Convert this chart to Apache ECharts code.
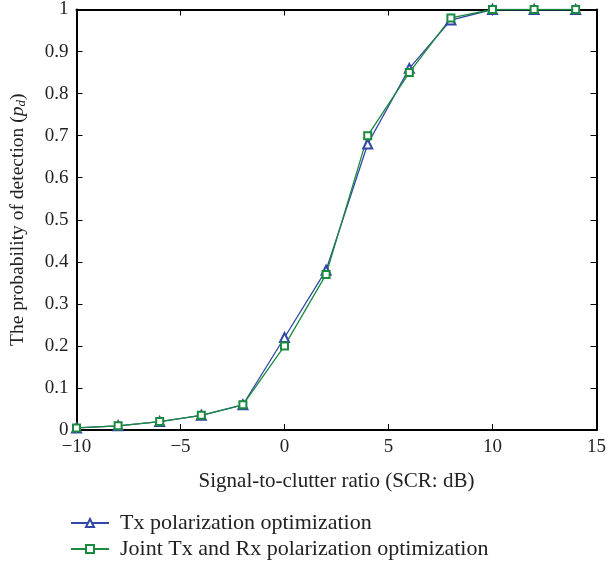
<!DOCTYPE html>
<html><head><meta charset="utf-8">
<script src="https://cdn.jsdelivr.net/npm/echarts@6/dist/echarts.min.js"></script>
<style>html,body{margin:0;padding:0;background:#fff}#c{width:609px;height:567px}</style>
</head><body><div id="c"></div>
<script>
var scr = [-10, -8, -6, -4, -2, 0, 2, 4, 6, 8, 10, 12, 14];
var txOpt = [0.005, 0.01, 0.02, 0.035, 0.06, 0.22, 0.38, 0.68, 0.86, 0.975, 1, 1, 1];
var jointOpt = [0.005, 0.01, 0.02, 0.035, 0.06, 0.20, 0.37, 0.70, 0.85, 0.98, 1, 1, 1];
var seriesNames = ['Tx polarization optimization', 'Joint Tx and Rx polarization optimization'];

var FONT = 'Liberation Serif';
var blue = '#3347a8', green = '#1a8a3e';
function pairs(xs, ys){ return xs.map(function(x,i){return [x, ys[i]];}); }
var chart = echarts.init(document.getElementById('c'));
var axisCommon = {
  axisLine: {show: true, onZero: false, lineStyle: {color: '#000', width: 2}},
  axisTick: {show: true, inside: true, length: 6, lineStyle: {color: '#000', width: 1}},
  splitLine: {show: false}
};
function legendAt(top, name){
  return {orient: 'vertical', left: 70, top: top, itemWidth: 38, itemHeight: 10, padding: 0,
    textStyle: {fontFamily: FONT, fontSize: 22, color: '#222', padding: [0,0,0,6]},
    data: [name]};
}
chart.setOption({
  animation: false,
  textStyle: {fontFamily: FONT},
  grid: {left: 72, right: 10, top: 9, bottom: 137},
  xAxis: [
    Object.assign({type: 'value', min: -10, max: 15, interval: 5, position: 'bottom',
      axisLabel: {color: '#222', fontSize: 19, fontFamily: FONT, margin: 8,
        formatter: function(v){ return String(v).replace('-', '\u2212'); }},
      name: 'Signal-to-clutter ratio (SCR: dB)', nameLocation: 'middle', nameGap: 41,
      nameTextStyle: {color: '#222', fontSize: 21, fontFamily: FONT}}, axisCommon),
    Object.assign({type: 'value', min: -10, max: 15, interval: 5, position: 'top',
      axisLabel: {show: false}}, axisCommon)
  ],
  yAxis: [
    Object.assign({type: 'value', min: 0, max: 1, interval: 0.1, position: 'left',
      axisLabel: {color: '#222', fontSize: 19, fontFamily: FONT, margin: 8},
      name: 'The probability of detection ({i|p}{sub|d})', nameLocation: 'middle', nameGap: 48,
      nameTextStyle: {color: '#222', fontSize: 19.5, fontFamily: FONT,
        rich: {i: {fontStyle: 'italic', fontSize: 19.5, fontFamily: FONT, color: '#222'},
               sub: {fontStyle: 'italic', fontSize: 13, fontFamily: FONT, color: '#222', verticalAlign: 'bottom', padding: [8,0,0,0]}}}}, axisCommon),
    Object.assign({type: 'value', min: 0, max: 1, interval: 0.1, position: 'right',
      axisLabel: {show: false}}, axisCommon)
  ],
  legend: [legendAt(512, seriesNames[0]), legendAt(538, seriesNames[1])],
  series: [
    {name: seriesNames[0], type: 'line', data: pairs(scr, txOpt),
     symbol: 'emptyTriangle', symbolSize: 9,
     lineStyle: {color: blue, width: 1.3}, itemStyle: {color: blue, borderColor: blue, borderWidth: 1.2}},
    {name: seriesNames[1], type: 'line', data: pairs(scr, jointOpt),
     symbol: 'emptyRect', symbolSize: 7,
     lineStyle: {color: green, width: 1.3}, itemStyle: {color: green, borderColor: green, borderWidth: 1.2}}
  ]
});
</script></body></html>
